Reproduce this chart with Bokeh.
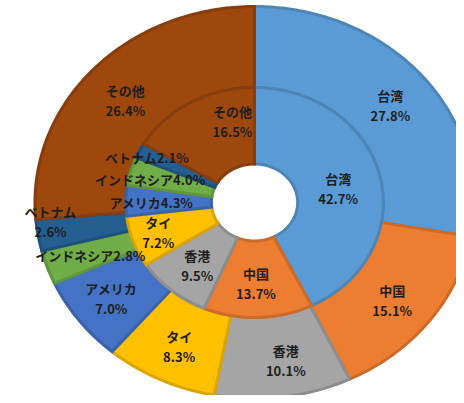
import numpy as np
from bokeh.plotting import figure
from bokeh.models import ColumnDataSource, Range1d
from bokeh.core.properties import value
from bokeh.embed import file_html
from bokeh.resources import INLINE

# ---------------- data ----------------
categories = ["台湾", "中国", "香港", "タイ", "アメリカ", "インドネシア", "ベトナム", "その他"]
outer_values = [27.8, 15.1, 10.1, 8.3, 7.0, 2.8, 2.6, 26.4]
inner_values = [42.7, 13.7, 9.5, 7.2, 4.3, 4.0, 2.1, 16.5]

# ---------------- style ----------------
colors = ["#5B9BD5", "#ED7D31", "#A5A5A5", "#FFC000", "#4472C4", "#70AD47", "#255E91", "#9E480E"]
FONT = "Noto Sans CJK JP"
TEXT_COLOR = "#1e1e1e"
R_HOLE, R_MID, R_OUT = 38.5, 115.0, 196.0
STRETCH = 1.12           # horizontal stretch of the reference picture
W, H = 456, 395
CX, CY = 254, 202        # centre in canvas pixels

# label placement tweaks: category -> (radius, angle shift in degrees, single line)
outer_tweaks = {"台湾": (155, 1.5, False), "中国": (157, 1.3, False),
                "香港": (160, -2.5, False), "タイ": (159, -0.5, False),
                "アメリカ": (160, 0, False), "インドネシア": (156, -0.7, True),
                "ベトナム": (183, 3.8, False), "その他": (154, -1.0, False)}
inner_tweaks = {"台湾": (76, 2.5, False), "中国": (81, 0.7, False), "香港": (81, -1, False),
                "タイ": (91, 0.7, False), "アメリカ": (92, -0.9, True),
                "インドネシア": (96, -1.9, True), "ベトナム": (106, -1.6, True),
                "その他": (83, 16, False)}


def darker(hexcol, f=0.86):
    r, g, b = (int(hexcol[i:i + 2], 16) for i in (1, 3, 5))
    return "#%02x%02x%02x" % (int(r * f), int(g * f), int(b * f))


def ring(values, r0, r1):
    vals = np.asarray(values, dtype=float)
    frac = vals / vals.sum()
    ends = np.cumsum(frac)
    starts = ends - frac
    xs, ys = [], []
    for s, e in zip(starts, ends):
        n = max(6, int((e - s) * 400))
        phi = np.pi / 2 - 2 * np.pi * np.linspace(s, e, n)
        x = np.concatenate([r1 * np.cos(phi), r0 * np.cos(phi[::-1])])
        y = np.concatenate([r1 * np.sin(phi), r0 * np.sin(phi[::-1])])
        xs.append(list(x))
        ys.append(list(y))
    mids = (starts + ends) / 2
    return xs, ys, mids


p = figure(width=W, height=H, output_backend="svg", toolbar_location=None,
           x_range=Range1d(-CX / STRETCH, (W - CX) / STRETCH),
           y_range=Range1d(-(H - CY), CY),
           x_axis_type=None, y_axis_type=None, min_border=0,
           outline_line_color=None, background_fill_color="white",
           border_fill_color="white")
p.grid.visible = False

top_lines = {"x": [], "y": [], "t": []}
bot_lines = {"x": [], "y": [], "t": []}
single = {"x": [], "y": [], "t": []}

for values, r0, r1, tweaks in ((outer_values, R_MID, R_OUT, outer_tweaks),
                               (inner_values, R_HOLE, R_MID, inner_tweaks)):
    xs, ys, mids = ring(values, r0, r1)
    src = ColumnDataSource(dict(xs=xs, ys=ys, fill=colors,
                                line=[darker(c) for c in colors]))
    p.patches("xs", "ys", source=src, fill_color="fill", line_color="line",
              line_width=3, line_join="miter")
    for cat, v, m in zip(categories, values, mids):
        r, dang, one = tweaks.get(cat, ((r0 + r1) / 2, 0, False))
        phi = np.pi / 2 - 2 * np.pi * m - np.deg2rad(dang)
        x, y = r * np.cos(phi), r * np.sin(phi)
        pct = f"{v:.1f}%"
        if one:
            single["x"].append(x); single["y"].append(y); single["t"].append(cat + pct)
        else:
            top_lines["x"].append(x); top_lines["y"].append(y); top_lines["t"].append(cat)
            bot_lines["x"].append(x); bot_lines["y"].append(y); bot_lines["t"].append(pct)

for d, off in ((top_lines, -10), (bot_lines, 10), (single, 0)):
    p.text(x="x", y="y", text="t", source=ColumnDataSource(d),
           text_font=value(FONT), text_font_style="bold", text_font_size="13px",
           text_color=TEXT_COLOR, text_align="center", text_baseline="middle",
           y_offset=off)

open("out.html", "w").write(file_html(p, INLINE))
